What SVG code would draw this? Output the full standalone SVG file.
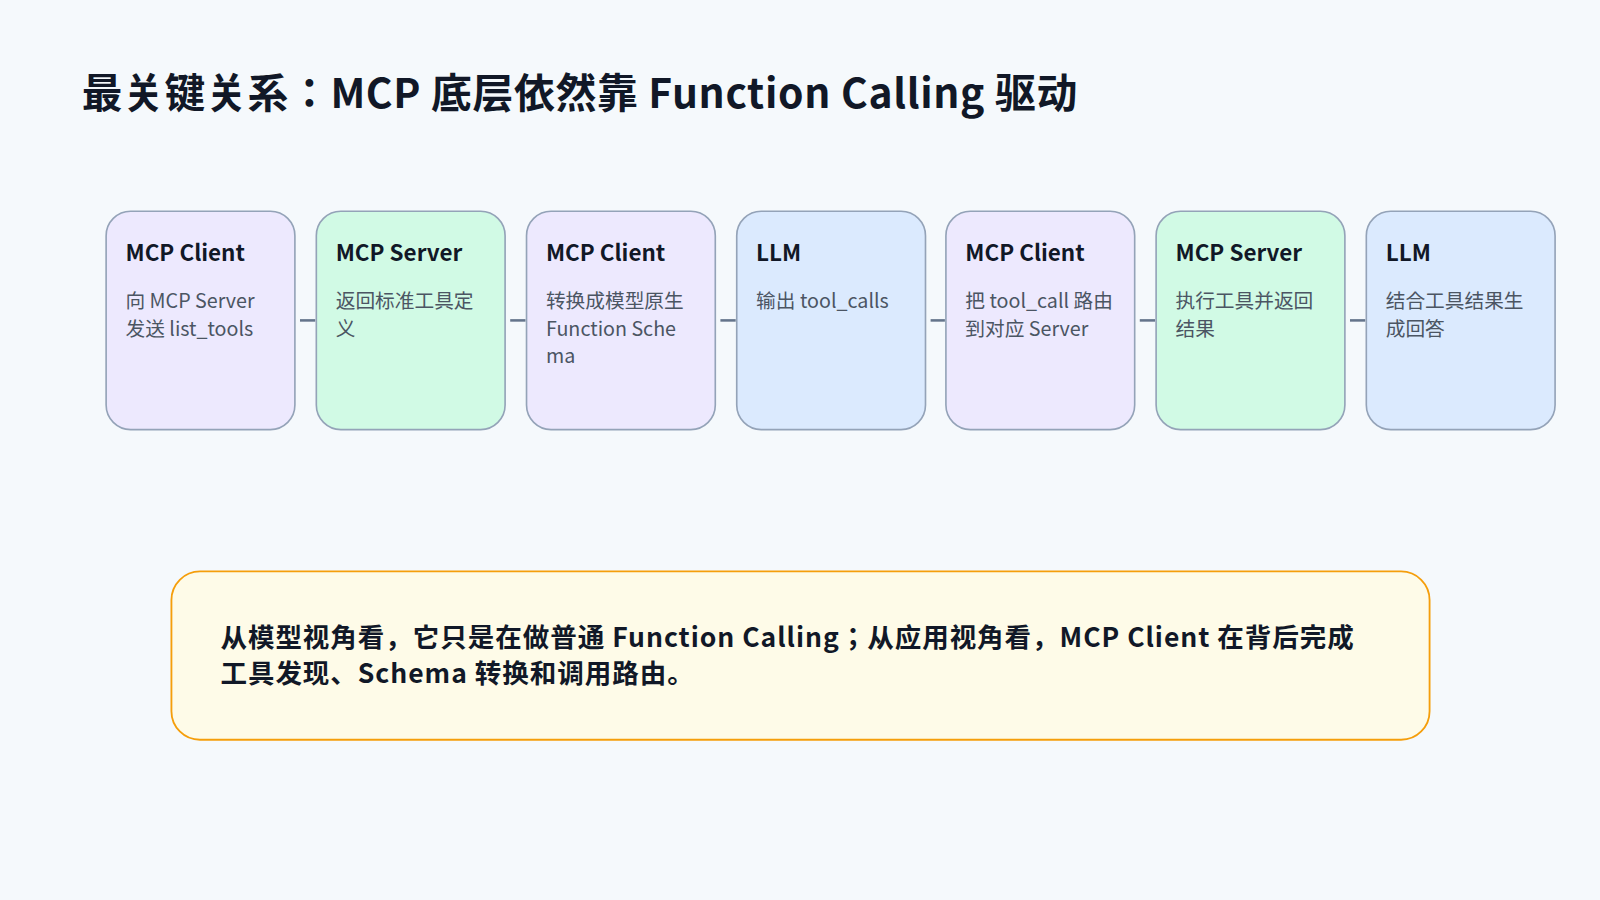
<svg xmlns="http://www.w3.org/2000/svg" width="1600" height="900" viewBox="0 0 1600 900">
<style>
text{font-family:"Noto Sans CJK JP","Noto Sans",sans-serif}
.t{font-size:22px;font-weight:700;fill:#111827}
.b{font-size:19.3px;fill:#4b5563}
.box{stroke:#94a3b8;stroke-width:1.6}
.p{fill:#ede9fe}.g{fill:#d1fae5}.u{fill:#dbeafe}
.c line{stroke:#64748b;stroke-width:2.5}
.n{font-size:26px;font-weight:700;fill:#111827;letter-spacing:0.95px}
</style>
<rect width="1600" height="900" fill="#f5f9fc"/>
<g transform="scale(1.0204)">
<text x="80" y="106" font-size="40" font-weight="700" fill="#111827" letter-spacing="0.65">最关键关系：MCP 底层依然靠 Function Calling 驱动</text>
<g class="c">
<line x1="294" y1="314" x2="309" y2="314"/><line x1="500" y1="314" x2="515" y2="314"/>
<line x1="706" y1="314" x2="721" y2="314"/><line x1="912" y1="314" x2="926" y2="314"/>
<line x1="1117" y1="314" x2="1132" y2="314"/><line x1="1323" y1="314" x2="1338" y2="314"/>
</g>
<g id="n1"><rect class="box p" x="104" y="207" width="185" height="214" rx="24"/><text class="t" x="123" y="256">MCP Client</text><text class="b" x="123" y="302">向 MCP Server</text><text class="b" x="123" y="329">发送 list_tools</text></g>
<g id="n2"><rect class="box g" x="310" y="207" width="185" height="214" rx="24"/><text class="t" x="329" y="256">MCP Server</text><text class="b" x="329" y="302">返回标准工具定</text><text class="b" x="329" y="329">义</text></g>
<g id="n3"><rect class="box p" x="516" y="207" width="185" height="214" rx="24"/><text class="t" x="535" y="256">MCP Client</text><text class="b" x="535" y="302">转换成模型原生</text><text class="b" x="535" y="329">Function Sche</text><text class="b" x="535" y="356">ma</text></g>
<g id="n4"><rect class="box u" x="722" y="207" width="185" height="214" rx="24"/><text class="t" x="741" y="256">LLM</text><text class="b" x="741" y="302">输出 tool_calls</text></g>
<g id="n5"><rect class="box p" x="927" y="207" width="185" height="214" rx="24"/><text class="t" x="946" y="256">MCP Client</text><text class="b" x="946" y="302">把 tool_call 路由</text><text class="b" x="946" y="329">到对应 Server</text></g>
<g id="n6"><rect class="box g" x="1133" y="207" width="185" height="214" rx="24"/><text class="t" x="1152" y="256">MCP Server</text><text class="b" x="1152" y="302">执行工具并返回</text><text class="b" x="1152" y="329">结果</text></g>
<g id="n7"><rect class="box u" x="1339" y="207" width="185" height="214" rx="24"/><text class="t" x="1358" y="256">LLM</text><text class="b" x="1358" y="302">结合工具结果生</text><text class="b" x="1358" y="329">成回答</text></g>
<g id="note"><rect x="168" y="560" width="1233" height="165" rx="28" fill="#fefbe8" stroke="#f59e0b" stroke-width="1.8"/>
<text class="n" x="216" y="634">从模型视角看，它只是在做普通 Function Calling；从应用视角看，MCP Client 在背后完成</text>
<text class="n" x="216" y="669">工具发现、Schema 转换和调用路由。</text></g>
</g>
</svg>
